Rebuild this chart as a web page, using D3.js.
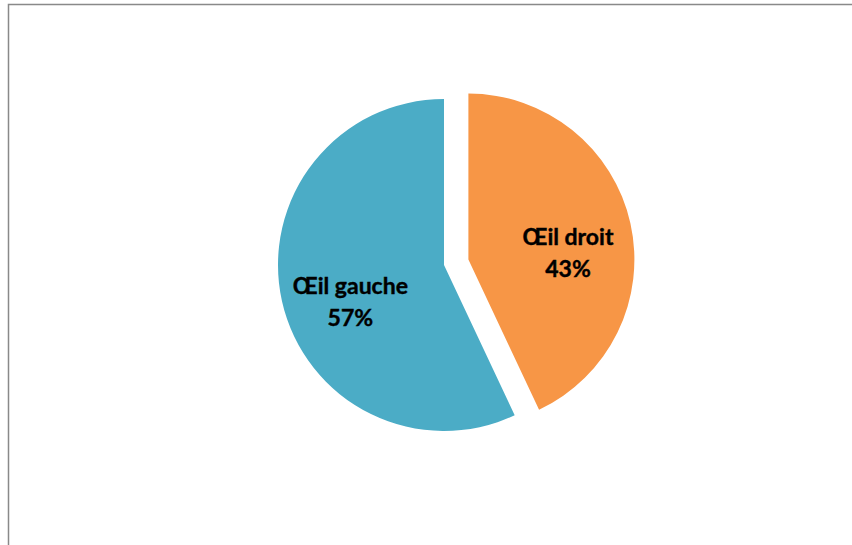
<!DOCTYPE html>
<html>
<head>
<meta charset="utf-8">
<script src="https://cdn.jsdelivr.net/npm/d3@7"></script>
<style>
  html, body { margin: 0; padding: 0; background: #fff; }
  svg { display: block; }
</style>
</head>
<body>
<svg id="chart" width="852" height="545"></svg>
<script>
// Share of cases by eye
const categories = ["Œil droit", "Œil gauche"];
const values = [43, 57];
const colors = ["#F79646", "#4BACC6"];
const exploded = [true, false];

const svg = d3.select("#chart");
const W = 852, H = 545;

// chart area frame
svg.append("rect")
  .attr("x", 8.5).attr("y", 4.5)
  .attr("width", W + 20).attr("height", H + 20)
  .attr("fill", "#fff")
  .attr("stroke", "#898989")
  .attr("stroke-width", 1.5);

const cx = 444, cy = 265, r = 166, explode = 25;

const pie = d3.pie().sort(null).value(d => d.value);
const arcs = pie(categories.map((c, i) => ({ name: c, value: values[i], color: colors[i], ex: exploded[i] })));

const arc = d3.arc().innerRadius(0).outerRadius(r);
const labelArc = d3.arc().innerRadius(99).outerRadius(99);

const g = svg.append("g").attr("transform", `translate(${cx},${cy})`);

const slice = g.selectAll("g.slice")
  .data(arcs)
  .join("g")
  .attr("class", "slice")
  .attr("transform", d => {
    if (!d.data.ex) return null;
    const a = (d.startAngle + d.endAngle) / 2;
    return `translate(${Math.sin(a) * explode},${-Math.cos(a) * explode})`;
  });

slice.append("path")
  .attr("d", arc)
  .attr("fill", d => d.data.color);

const total = d3.sum(values);
const lbl = slice.append("text")
  .attr("transform", d => {
    const [x, y] = labelArc.centroid(d);
    return `translate(${x + 3},${y + 15})`;
  })
  .attr("text-anchor", "middle")
  .attr("font-family", "Lato, 'Open Sans', sans-serif")
  .attr("font-weight", "bold")
  .attr("font-size", 23)
  .attr("fill", "#000")
  .attr("stroke", "#000")
  .attr("stroke-width", 0.4);

lbl.append("tspan").attr("x", 0).attr("y", -7.5).text(d => d.data.name);
lbl.append("tspan").attr("x", 0).attr("y", 24.5)
  .text(d => Math.round(d.data.value / total * 100) + "%");
</script>
</body>
</html>
